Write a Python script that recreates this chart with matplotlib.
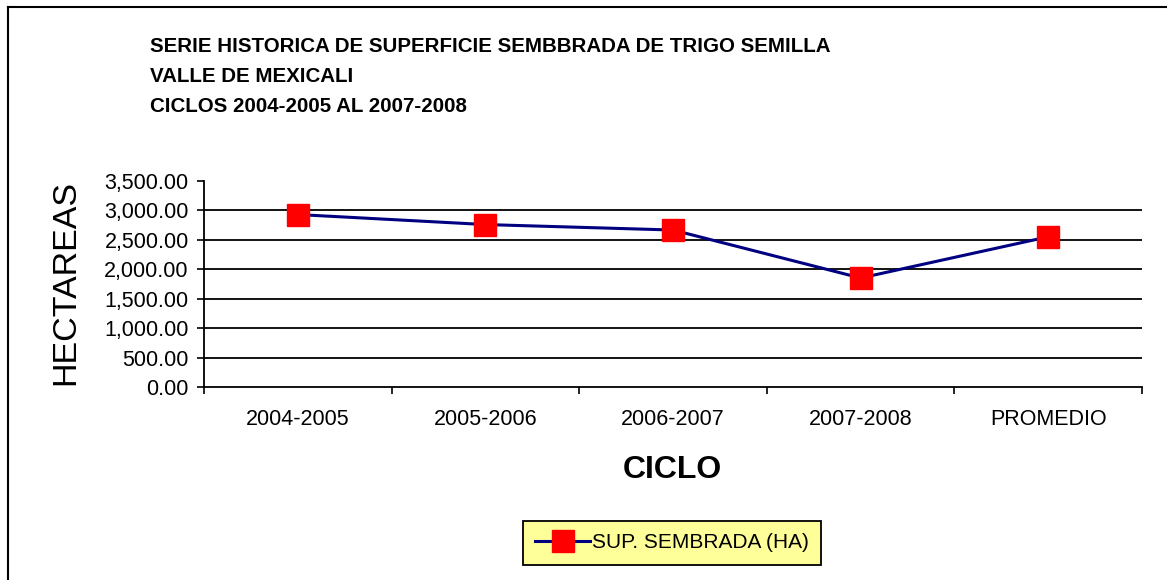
import matplotlib
matplotlib.use('Agg')
import matplotlib.pyplot as plt
from matplotlib.lines import Line2D
from matplotlib.ticker import FuncFormatter

ciclos = ['2004-2005', '2005-2006', '2006-2007', '2007-2008', 'PROMEDIO']
superficie = [2930, 2760, 2667, 1852, 2552]
yticks = [0, 500, 1000, 1500, 2000, 2500, 3000, 3500]
titulo = ['SERIE HISTORICA DE SUPERFICIE SEMBBRADA DE TRIGO SEMILLA',
          'VALLE DE MEXICALI',
          'CICLOS 2004-2005 AL 2007-2008']

plt.rcParams['font.family'] = ['Liberation Sans', 'DejaVu Sans']

W, H = 1167, 580
fig = plt.figure(figsize=(W / 100, H / 100), dpi=100)
fig.patch.set_facecolor('white')

# outer frame (only top and left visible)
fig.add_artist(Line2D([8 / W, 1.0], [1 - 7 / H, 1 - 7 / H], color='black', lw=1.5))
fig.add_artist(Line2D([8 / W, 8 / W], [0, 1 - 7 / H], color='black', lw=1.5))

ax = fig.add_axes([204 / W, 1 - 387 / H, (1142 - 204) / W, (387 - 181) / H])

x = list(range(len(ciclos)))
ax.plot(x, superficie, color='#000080', lw=2.2, marker='s', markersize=16,
        markerfacecolor='#FF0000', markeredgecolor='#FF0000',
        label='SUP. SEMBRADA (HA)')

ax.set_xlim(-0.5, len(ciclos) - 0.5)
ax.set_ylim(0, 3500)
ax.set_yticks(yticks)
ax.yaxis.set_major_formatter(FuncFormatter(lambda v, p: f'{v:,.2f}'))
ax.set_xticks(x)
ax.set_xticklabels(ciclos)
ax.set_xticks([i - 0.5 for i in range(len(ciclos) + 1)], minor=True)
ax.tick_params(axis='x', which='major', length=0, pad=16, labelsize=15.5, colors='black')
ax.tick_params(axis='x', which='minor', length=5, width=1.2, direction='out')
ax.tick_params(axis='y', length=5, width=1.2, labelsize=15.5, pad=6)

ax.grid(axis='y', color='black', lw=1.3)
ax.get_ygridlines()[-1].set_visible(False)
ax.get_ygridlines()[0].set_visible(False)
ax.set_axisbelow(True)

for s in ['top', 'right']:
    ax.spines[s].set_visible(False)
for s in ['left', 'bottom']:
    ax.spines[s].set_linewidth(1.3)

fig.text(66 / W, 1 - 283 / H, 'HECTAREAS', fontsize=24.5, rotation=90,
         ha='center', va='center')
fig.text(672 / W, 1 - 470 / H, 'CICLO', fontsize=23, fontweight='bold',
         ha='center', va='center')

for i, t in enumerate(titulo):
    fig.text(150 / W, 1 - (47 + 30 * i) / H, t, fontsize=14.8, fontweight='bold',
             ha='left', va='center')

leg = fig.legend(loc='center', bbox_to_anchor=(672 / W, 1 - 543 / H), fontsize=15,
                 fancybox=False, facecolor='#FFFF99', edgecolor='black', framealpha=1,
                 numpoints=1, handlelength=2.6, handletextpad=0.1, borderpad=0.6,
                 borderaxespad=0)
leg.get_frame().set_linewidth(1.3)

fig.savefig('out.png', dpi=100)
